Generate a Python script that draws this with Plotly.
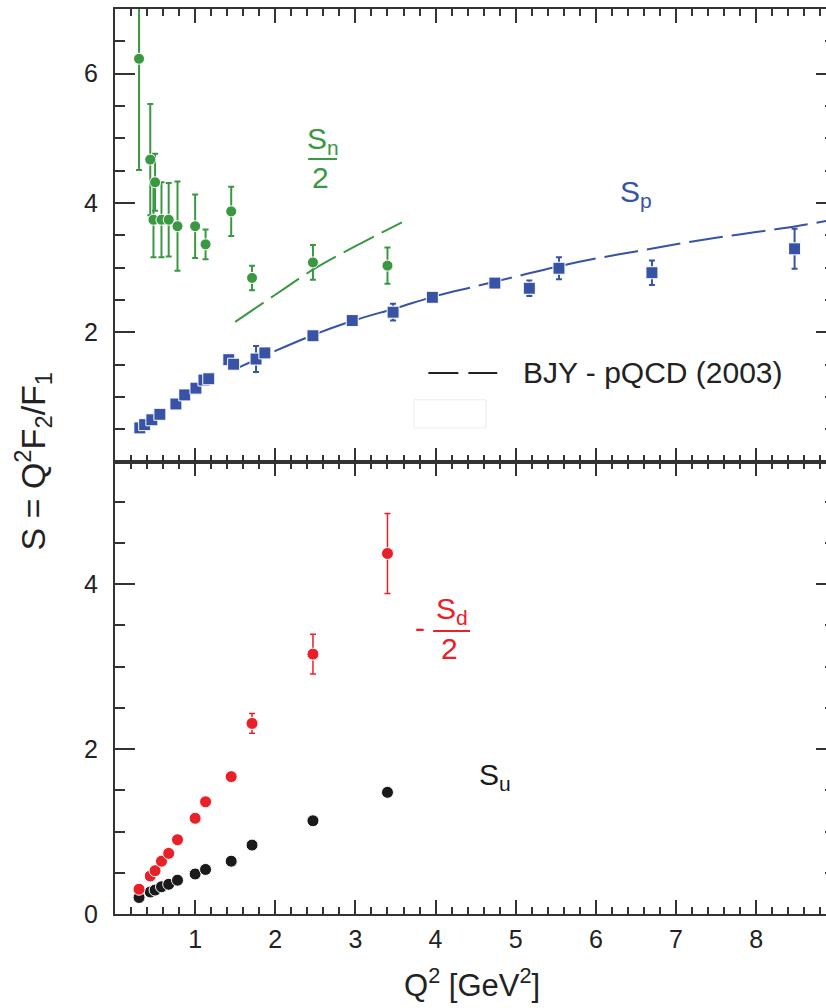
import plotly.graph_objects as go

# ---- data -----------------------------------------------------------------
# neutron: S_n / 2 (top panel, green circles)
q2_n = [0.30, 0.44, 0.50, 0.48, 0.58, 0.67, 0.78, 1.00, 1.13, 1.45, 1.71, 2.47, 3.40]
sn_half = [6.23, 4.67, 4.32, 3.74, 3.74, 3.74, 3.64, 3.64, 3.36, 3.87, 2.84, 3.08, 3.03]
sn_half_err = [1.72, 0.86, 0.44, 0.58, 0.58, 0.57, 0.69, 0.49, 0.23, 0.38, 0.19, 0.27, 0.28]

# proton: S_p (top panel, blue squares)
q2_p = [0.31, 0.37, 0.46, 0.56, 0.76, 0.87, 1.01, 1.11, 1.17, 1.42, 1.48, 1.76,
        1.87, 2.47, 2.96, 3.47, 3.96, 4.74, 5.17, 5.54, 6.70, 8.48]
sp = [0.52, 0.57, 0.645, 0.73, 0.89, 1.03, 1.135, 1.26, 1.28, 1.575, 1.505, 1.585,
      1.68, 1.945, 2.18, 2.31, 2.54, 2.76, 2.68, 2.99, 2.92, 3.29]
sp_err = [0, 0, 0, 0, 0, 0, 0, 0, 0, 0, 0, 0.20,
          0, 0, 0, 0.13, 0, 0, 0.12, 0.17, 0.19, 0.31]

# BJY pQCD (2003) curves
q2_bjy_p = [1.5, 2.0, 2.5, 3.0, 3.5, 4.0, 4.5, 5.0, 5.5, 6.0, 6.5, 7.0, 7.5, 8.0, 8.5, 9.0]
bjy_p = [1.43, 1.71, 1.97, 2.19, 2.37, 2.56, 2.71, 2.86, 3.01, 3.14, 3.25, 3.36, 3.46, 3.55, 3.64, 3.75]
q2_bjy_n = [1.5, 2.0, 2.5, 3.0, 3.58]
bjy_n = [2.16, 2.58, 2.99, 3.33, 3.70]

# flavour separated (bottom panel)
q2_f = [0.30, 0.44, 0.50, 0.58, 0.67, 0.78, 1.00, 1.13, 1.45, 1.71, 2.47, 3.40]
sd_half = [0.30, 0.46, 0.525, 0.64, 0.735, 0.90, 1.16, 1.36, 1.665, 2.31, 3.15, 4.37]
sd_half_err = [0, 0, 0, 0, 0, 0, 0, 0, 0, 0.12, 0.24, 0.485]
su = [0.20, 0.267, 0.29, 0.33, 0.36, 0.41, 0.485, 0.54, 0.64, 0.835, 1.13, 1.475]

x_ticks = [1, 2, 3, 4, 5, 6, 7, 8]
y_ticks_top = [2, 4, 6]
y_ticks_bot = [0, 2, 4]

# ---- styling --------------------------------------------------------------
GREEN = "rgb(58,152,66)"
BLUE = "rgb(56,82,166)"
RED = "rgb(234,32,40)"
BLACK = "rgb(26,26,26)"
AX = "#333333"
TXT = "#222222"
FONT = "Liberation Sans, Arial, Helvetica, sans-serif"
DASH = "34px,9px"

X_RANGE = [0, 8.872]
Y_TOP = [0, 7]
Y_BOT = [0, 5.485]

fig = go.Figure()

# top panel
fig.add_trace(go.Scatter(
    x=q2_bjy_n, y=bjy_n, mode="lines", line=dict(color=GREEN, width=2, dash=DASH),
    xaxis="x", yaxis="y", showlegend=False, line_shape="spline"))
fig.add_trace(go.Scatter(
    x=q2_bjy_p, y=bjy_p, mode="lines", line=dict(color=BLUE, width=2, dash=DASH),
    xaxis="x", yaxis="y", showlegend=False, line_shape="spline"))
fig.add_trace(go.Scatter(
    x=q2_n, y=sn_half, mode="markers",
    marker=dict(symbol="circle", size=11, color=GREEN, line=dict(color="white", width=1)),
    error_y=dict(type="data", array=sn_half_err, visible=True, color=GREEN, thickness=2, width=3),
    xaxis="x", yaxis="y", showlegend=False))
fig.add_trace(go.Scatter(
    x=q2_p, y=sp, mode="markers",
    marker=dict(symbol="square", size=12, color=BLUE, line=dict(color="white", width=1)),
    error_y=dict(type="data", array=sp_err, visible=True, color=BLUE, thickness=2, width=3),
    xaxis="x", yaxis="y", showlegend=False))

# bottom panel
fig.add_trace(go.Scatter(
    x=q2_f, y=su, mode="markers",
    marker=dict(symbol="circle", size=12, color=BLACK, line=dict(color="white", width=1)),
    xaxis="x2", yaxis="y2", showlegend=False))
fig.add_trace(go.Scatter(
    x=q2_f, y=sd_half, mode="markers",
    marker=dict(symbol="circle", size=12, color=RED, line=dict(color="white", width=1)),
    error_y=dict(type="data", array=sd_half_err, visible=True, color=RED, thickness=1.5, width=3),
    xaxis="x2", yaxis="y2", showlegend=False))

# empty traces carrying the right-hand tick axes
fig.add_trace(go.Scatter(x=[None], y=[None], xaxis="x", yaxis="y3", showlegend=False, hoverinfo="skip"))
fig.add_trace(go.Scatter(x=[None], y=[None], xaxis="x2", yaxis="y4", showlegend=False, hoverinfo="skip"))

tickfont = dict(family=FONT, size=25, color=TXT)

xcommon = dict(range=X_RANGE, showgrid=False, zeroline=False, showline=True, linewidth=2,
               linecolor=AX, mirror="ticks", ticks="inside", ticklen=14, tickwidth=1.5,
               tickcolor=AX, tickmode="array", tickvals=x_ticks,
               minor=dict(tick0=0, dtick=0.2, ticks="inside", ticklen=7, tickwidth=1.5, tickcolor=AX))
ycommon = dict(showgrid=False, zeroline=False, showline=True, linewidth=2, linecolor=AX,
               mirror=False, ticks="inside", ticklen=20, tickwidth=1.5, tickcolor=AX,
               tickmode="array", tickfont=tickfont, ticklabelstandoff=10,
               minor=dict(tick0=0, dtick=0.5, ticks="inside", ticklen=10, tickwidth=1.5, tickcolor=AX))
yright = dict(showgrid=False, zeroline=False, showline=False, side="right",
              ticks="inside", ticklen=10, tickwidth=1.5, tickcolor=AX, tickmode="array",
              showticklabels=False,
              minor=dict(tick0=0, dtick=0.5, ticks="inside", ticklen=1, tickwidth=1.5, tickcolor=AX))

fig.update_layout(
    width=826, height=1008,
    margin=dict(l=115, r=0, t=9, b=94),
    paper_bgcolor="white", plot_bgcolor="white",
    font=dict(family=FONT, color=TXT),
    xaxis=dict(domain=[0, 1], anchor="y", showticklabels=False, **xcommon),
    yaxis=dict(domain=[0.5, 1], anchor="x", range=Y_TOP, tickvals=y_ticks_top, **ycommon),
    xaxis2=dict(domain=[0, 1], anchor="y2", showticklabels=True, tickfont=tickfont,
                ticklabelstandoff=2, **xcommon),
    yaxis2=dict(domain=[0, 0.5], anchor="x2", range=Y_BOT, tickvals=y_ticks_bot, **ycommon),
    yaxis3=dict(overlaying="y", anchor="x", range=Y_TOP, tickvals=y_ticks_top, **yright),
    yaxis4=dict(overlaying="y2", anchor="x2", range=Y_BOT, tickvals=y_ticks_bot, **yright),
)

LABEL = 30

def label(text, x, y, color, xref="x", yref="y", size=LABEL):
    fig.add_annotation(text=text, x=x, y=y, xref=xref, yref=yref, showarrow=False,
                       font=dict(family=FONT, size=size, color=color),
                       xanchor="center", yanchor="middle")

# S_n / 2
label("S<sub>n</sub>", 2.60, 4.96, GREEN)
fig.add_shape(type="line", x0=2.41, x1=2.77, y0=4.68, y1=4.68, xref="x", yref="y",
              line=dict(color=GREEN, width=2))
label("2", 2.57, 4.40, GREEN)

# S_p
label("S<sub>p</sub>", 6.50, 4.14, BLUE)

# -S_d / 2
label("-", 3.81, 3.47, RED, xref="x2", yref="y2")
label("S<sub>d</sub>", 4.20, 3.68, RED, xref="x2", yref="y2")
fig.add_shape(type="line", x0=3.97, x1=4.43, y0=3.43, y1=3.43, xref="x2", yref="y2",
              line=dict(color=RED, width=2))
label("2", 4.17, 3.22, RED, xref="x2", yref="y2")

# S_u
label("S<sub>u</sub>", 4.74, 1.67, BLACK, xref="x2", yref="y2")

# BJY legend entry
fig.add_shape(type="line", x0=3.91, x1=4.77, y0=1.37, y1=1.37, xref="x", yref="y",
              line=dict(color=TXT, width=2, dash="30px,10px"))
fig.add_annotation(text="BJY - pQCD (2003)", x=5.07, y=1.37, xref="x", yref="y",
                   showarrow=False, xanchor="left", yanchor="middle",
                   font=dict(family=FONT, size=30, color=TXT))
fig.add_shape(type="rect", x0=3.73, x1=4.63, y0=0.52, y1=0.955, xref="x", yref="y",
              line=dict(color="#ececec", width=1))

# axis titles
fig.add_annotation(text="S = Q<sup>2</sup>F<sub>2</sub>/F<sub>1</sub>", x=-0.1167, y=0.5,
                   xref="paper", yref="paper", showarrow=False, textangle=-90,
                   xanchor="center", yanchor="middle",
                   font=dict(family=FONT, size=34, color=TXT))
fig.add_annotation(text="Q<sup>2</sup> [GeV<sup>2</sup>]", x=0.502, y=-0.101,
                   xref="paper", yref="paper", showarrow=False,
                   xanchor="center", yanchor="bottom",
                   font=dict(family=FONT, size=31, color=TXT))

fig.write_html("out.html")
